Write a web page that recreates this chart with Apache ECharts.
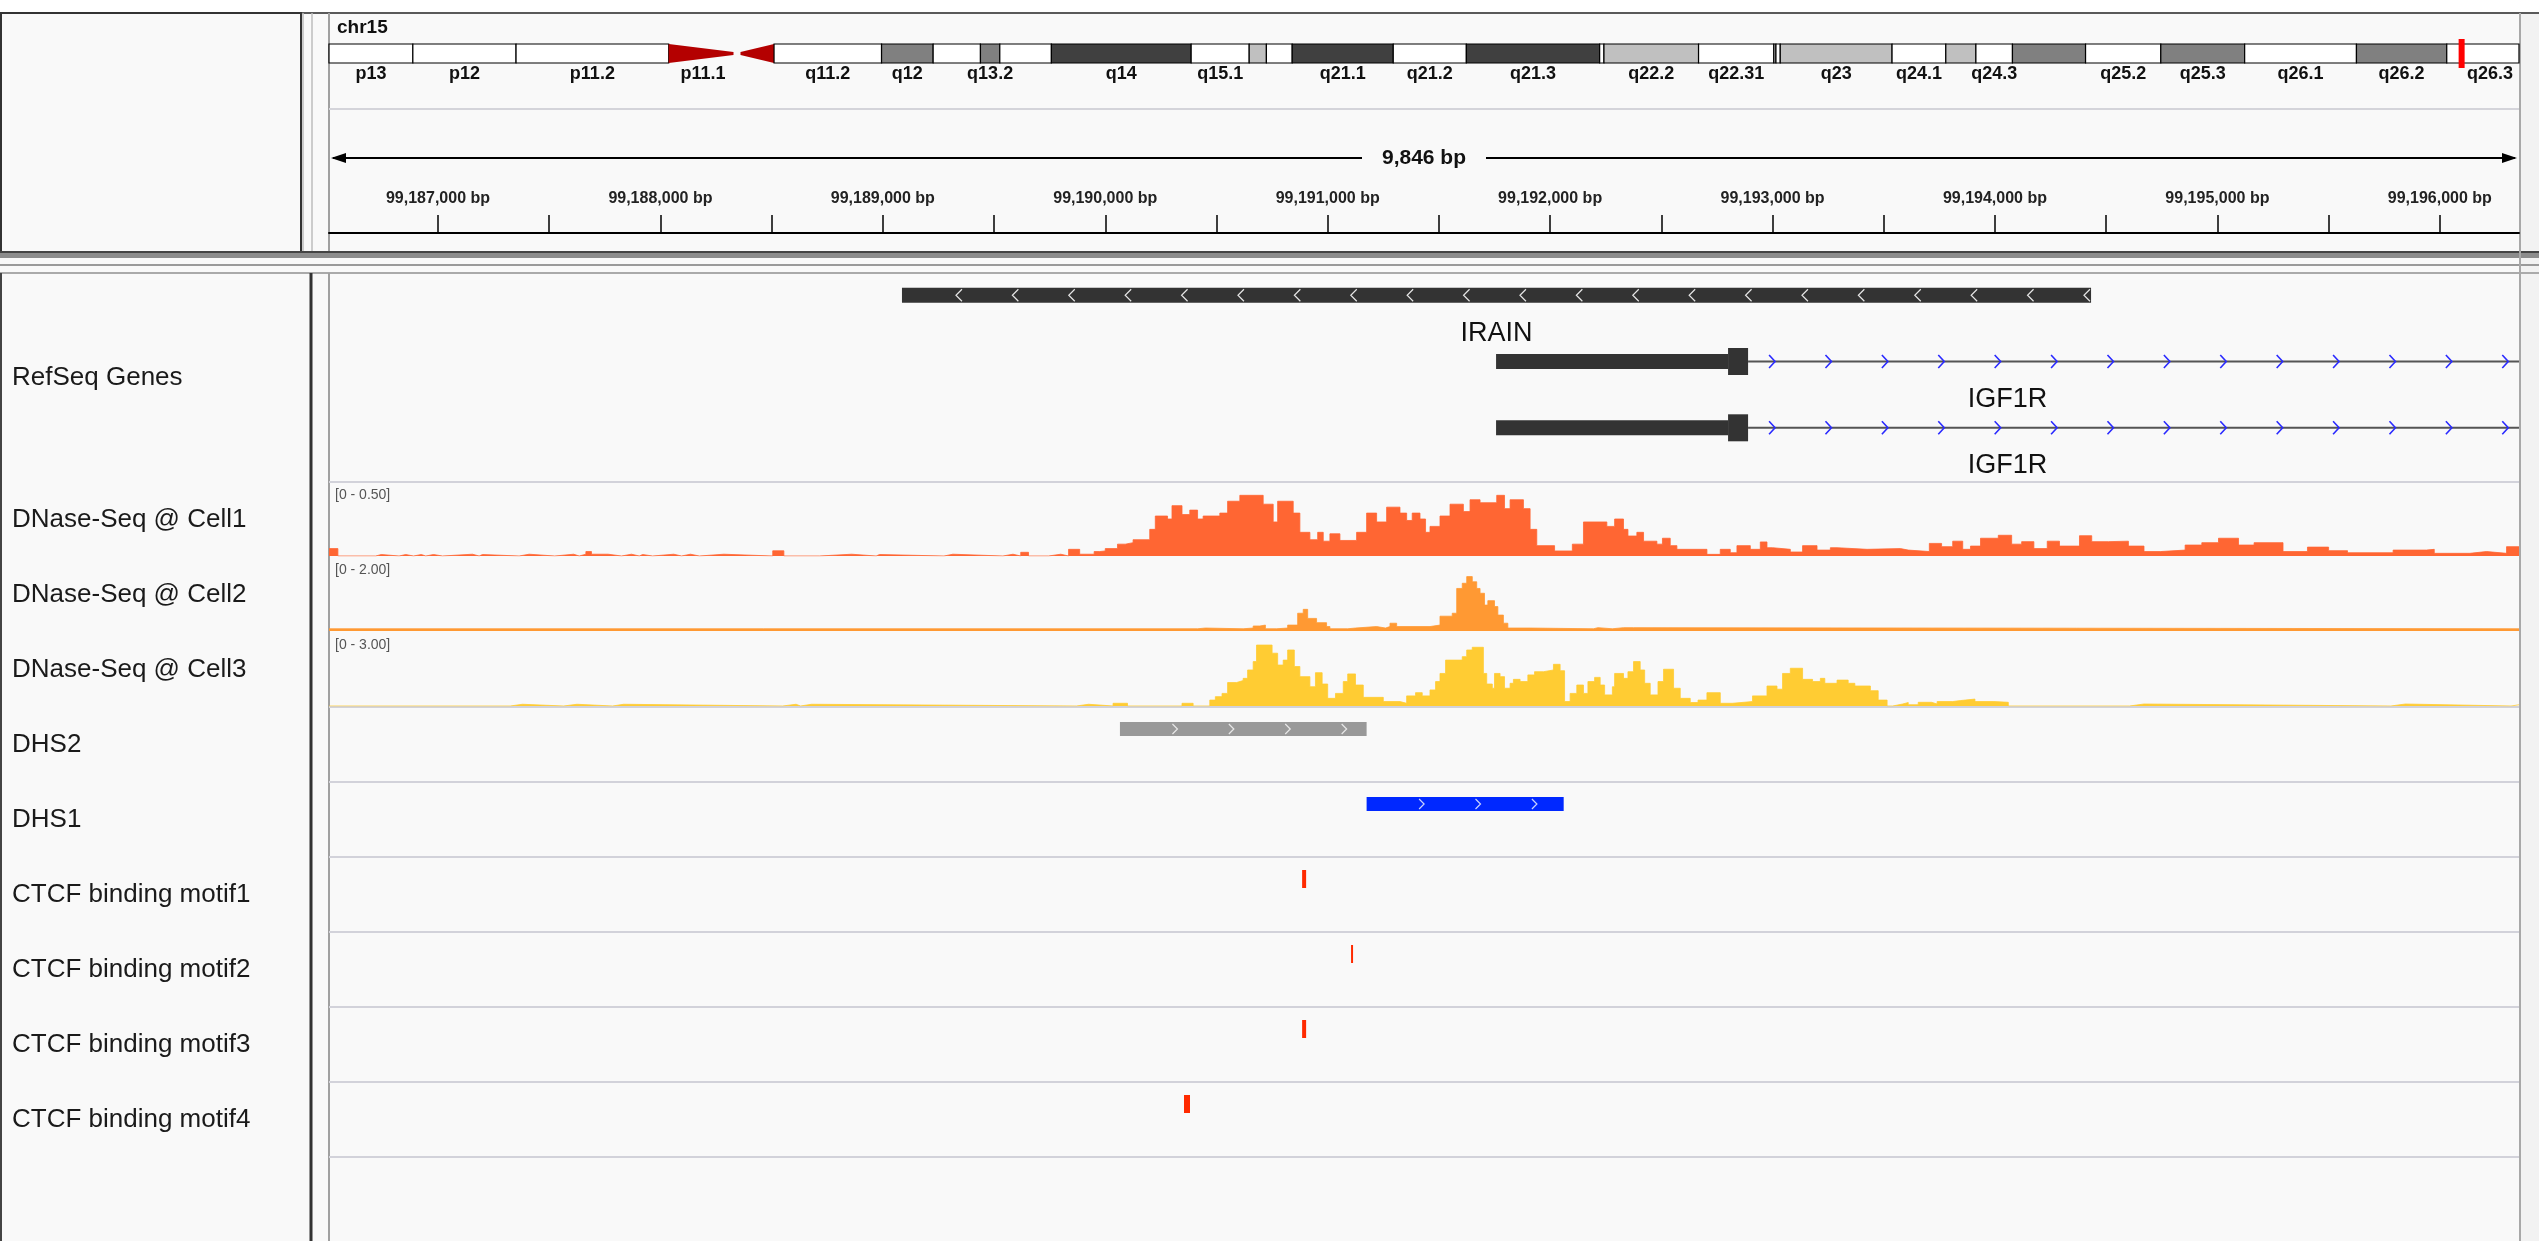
<!DOCTYPE html>
<html><head><meta charset="utf-8">
<script src="https://cdn.jsdelivr.net/npm/echarts@6/dist/echarts.min.js"></script>
<style>html,body{margin:0;padding:0;background:#f9f9f9;overflow:hidden}#c{width:2539px;height:1241px}</style>
</head><body><div id="c"></div>
<script>
// ---------------- DATA ----------------
const CHROM = 'chr15';
const VIEW_START = 99186510;
const VIEW_END = 99196356;
const rulerTickPositions = [99187000,99187500,99188000,99188500,99189000,99189500,99190000,99190500,99191000,99191500,99192000,99192500,99193000,99193500,99194000,99194500,99195000,99195500,99196000];
const rulerLabelPositions = [99187000,99188000,99189000,99190000,99191000,99192000,99193000,99194000,99195000,99196000];

// chr15 cytobands (Mb)
const bandNames = ['p13','p12','p11.2','p11.1','q11.1','q11.2','q12','q13.1','q13.2','q13.3','q14','q15.1','q15.2','q15.3','q21.1','q21.2','q21.3','q22.1','q22.2','q22.31','q22.32','q22.33','q23','q24.1','q24.2','q24.3','q25.1','q25.2','q25.3','q26.1','q26.2','q26.3'];
const bandStartsMb = [0,3.9,8.7,15.8,19.0,20.7,25.7,28.1,30.3,31.2,33.6,40.1,42.8,43.6,44.8,49.5,52.9,59.1,59.3,63.7,67.2,67.3,67.5,72.7,75.2,76.6,78.3,81.7,85.2,89.1,94.3,98.5];
const bandStains = ['gvar','stalk','gvar','acen','acen','gneg','gpos50','gneg','gpos50','gneg','gpos75','gneg','gpos25','gneg','gpos75','gneg','gpos75','gneg','gpos25','gneg','gpos25','gneg','gpos25','gneg','gpos25','gneg','gpos50','gneg','gpos50','gneg','gpos50','gneg'];
const chromLengthMb = 102.53;
const shownBandLabels = ['p13','p12','p11.2','p11.1','q11.2','q12','q13.2','q14','q15.1','q21.1','q21.2','q21.3','q22.2','q22.31','q23','q24.1','q24.3','q25.2','q25.3','q26.1','q26.2','q26.3'];
const ideogramViewMb = 101.86;

// genes
const geneNames = ['IRAIN','IGF1R','IGF1R'];
const geneStrands = ['-','+','+'];
const geneTxStarts = [99189086,99191757,99191757];
const geneTxEnds = [99194432,99507759,99507759];
const geneExon1Ends = [99194432,99192890,99192890];
const geneCdsStarts = [null,99192800,99192800];

// track names
const trackNames = ['RefSeq Genes','DNase-Seq @ Cell1','DNase-Seq @ Cell2','DNase-Seq @ Cell3','DHS2','DHS1','CTCF binding motif1','CTCF binding motif2','CTCF binding motif3','CTCF binding motif4'];
const signalMax = [0.5, 2.0, 3.0];

// DNase signal: [bp offset from VIEW_START, value] step segments
const cell1Steps = [[0,0.05],[40,0],[210,0.01],[235,0],[315,0.01],[345,0],[380,0.01],[415,0],[435,0.01],[470,0],[510,0.012],[645,0],[675,0.01],[690,0],[855,0.012],[900,0],[1015,0.012],[1100,0],[1125,0.012],[1155,0.03],[1180,0.012],[1255,0],[1315,0.012],[1360,0],[1395,0.01],[1410,0],[1455,0.012],[1550,0],[1585,0.012],[1625,0],[1665,0.012],[1775,0],[1995,0.035],[2045,0],[2205,0.012],[2350,0],[2460,0.01],[2475,0],[2765,0.012],[2805,0],[3030,0.012],[3075,0],[3110,0.025],[3145,0],[3235,0.012],[3290,0],[3325,0.045],[3375,0.012],[3440,0.03],[3465,0.034],[3490,0.05],[3545,0.08],[3580,0.09],[3615,0.11],[3690,0.18],[3715,0.27],[3770,0.25],[3790,0.34],[3835,0.28],[3870,0.31],[3905,0.25],[3930,0.27],[4005,0.29],[4040,0.37],[4095,0.41],[4200,0.35],[4245,0.23],[4265,0.37],[4335,0.29],[4365,0.16],[4410,0.11],[4445,0.16],[4470,0.10],[4500,0.15],[4545,0.105],[4620,0.16],[4665,0.29],[4710,0.23],[4755,0.33],[4815,0.29],[4845,0.24],[4870,0.29],[4905,0.25],[4930,0.16],[4950,0.2],[4995,0.27],[5040,0.35],[5100,0.3],[5130,0.38],[5175,0.36],[5250,0.41],[5285,0.32],[5310,0.38],[5370,0.32],[5400,0.18],[5430,0.07],[5510,0.034],[5590,0.08],[5640,0.23],[5745,0.2],[5780,0.25],[5820,0.18],[5840,0.135],[5880,0.16],[5910,0.10],[5970,0.08],[5995,0.12],[6030,0.07],[6060,0.045],[6195,0.011],[6255,0.045],[6300,0.022],[6330,0.07],[6390,0.045],[6435,0.095],[6465,0.056],[6490,0.045],[6570,0.027],[6625,0.07],[6690,0.04],[6750,0.056],[6780,0.045],[6915,0.05],[7065,0.04],[7100,0.03],[7195,0.085],[7250,0.063],[7300,0.10],[7345,0.045],[7380,0.067],[7425,0.12],[7505,0.14],[7565,0.08],[7610,0.097],[7665,0.05],[7725,0.10],[7780,0.067],[7870,0.137],[7925,0.097],[8000,0.10],[8090,0.067],[8160,0.03],[8235,0.04],[8345,0.074],[8420,0.09],[8495,0.12],[8585,0.074],[8655,0.09],[8785,0.03],[8895,0.06],[8990,0.036],[9075,0.022],[9280,0.04],[9430,0.045],[9465,0.018],[9625,0.03],[9700,0.018],[9790,0.063]];
const cell2Steps = [[0,0.06],[3905,0.08],[3940,0.06],[4110,0.08],[4155,0.135],[4185,0.16],[4210,0.06],[4260,0.08],[4310,0.16],[4355,0.48],[4380,0.585],[4400,0.34],[4440,0.225],[4485,0.12],[4500,0.06],[4580,0.08],[4615,0.12],[4710,0.08],[4750,0.12],[4770,0.21],[4800,0.12],[4950,0.16],[4995,0.4],[5050,0.48],[5070,1.15],[5095,1.29],[5115,1.47],[5140,1.33],[5160,1.15],[5175,1.02],[5195,0.7],[5210,0.82],[5240,0.66],[5255,0.43],[5280,0.21],[5300,0.08],[5400,0.06],[5685,0.09],[5705,0.06],[5770,0.09],[5820,0.06],[5825,0.09],[5865,0.06]];
const cell3Steps = [[0,0],[815,0.07],[870,0],[1055,0.07],[1115,0],[1275,0.07],[1325,0],[2040,0.07],[2100,0],[2120,0.07],[2170,0],[3360,0.07],[3415,0],[3525,0.11],[3590,0],[3835,0.11],[3885,0],[3960,0.24],[3985,0.38],[4015,0.51],[4040,0.95],[4080,1.03],[4110,1.12],[4130,1.46],[4155,1.8],[4170,2.47],[4240,2.14],[4265,1.66],[4290,1.86],[4310,2.27],[4340,1.6],[4365,1.19],[4410,0.78],[4435,1.35],[4465,0.89],[4490,0.31],[4525,0.51],[4560,0.99],[4580,1.3],[4615,0.85],[4650,0.35],[4740,0.18],[4815,0.11],[4845,0.41],[4885,0.54],[4915,0.41],[4950,0.65],[4975,0.99],[4995,1.32],[5020,1.86],[5095,2.0],[5115,2.27],[5140,2.38],[5190,1.32],[5205,0.89],[5230,0.72],[5240,1.32],[5265,1.19],[5285,0.72],[5310,0.92],[5325,1.08],[5355,0.99],[5390,1.26],[5420,1.39],[5460,1.46],[5505,1.69],[5535,1.43],[5555,0.18],[5580,0.51],[5610,0.85],[5640,0.51],[5660,0.99],[5690,1.16],[5715,0.85],[5735,0.45],[5770,0.78],[5780,1.32],[5820,1.12],[5840,1.39],[5865,1.8],[5895,1.46],[5915,0.92],[5940,0.45],[5975,0.99],[6000,1.49],[6045,0.72],[6075,0.31],[6120,0.14],[6155,0.24],[6195,0.54],[6255,0.11],[6310,0.18],[6400,0.41],[6465,0.81],[6510,0.68],[6535,1.32],[6570,1.53],[6625,1.08],[6670,0.99],[6705,1.12],[6725,0.92],[6780,1.05],[6830,0.92],[6860,0.81],[6930,0.62],[6965,0.24],[7005,0],[7030,0.08],[7075,0.14],[7100,0.05],[7145,0.15],[7205,0.08],[7230,0.18],[7300,0.22],[7335,0.28],[7400,0.18],[7485,0.15],[7550,0],[8095,0.08],[8160,0],[9270,0.08],[9335,0],[9810,0.05]];

// feature tracks (DHS2, DHS1, CTCF motif1..4)
const featureStarts = [99190066,99191175,99190885,99191105,99190885,99190354];
const featureEnds   = [99191175,99192061,99190903,99191114,99190903,99190381];
const featureStrands = ['+','+','','','',''];

// ---------------- STYLE / LAYOUT ----------------
const FONT = "'Liberation Sans', Arial, Helvetica, sans-serif";
const L = 329, W = 2190, R = L + W;
const IDEO_TOP = 44, IDEO_H = 19;
const RULER_TOP = 110, RULER_H = 123;
const GENE_TOP = 272, GENE_H = 210, GENE_ROW = 66.3;
const SIG_TOP = 482, TRACK_H = 75;
const FEAT_TOP = 707;
const stainColor = {gneg:'#ffffff', gvar:'#ffffff', stalk:'#ffffff', gpos25:'#c0c0c0', gpos50:'#808080', gpos75:'#404040', gpos100:'#000000'};
const signalColors = ['#ff6633','#ff9933','#ffcc33'];
const featureColors = ['#999999','#0028ff','#ff2a00','#ff2a00','#ff2a00','#ff2a00'];
const featureChevronColors = ['#e8e8e8','#c8d2ff'];
const featureHeights = [14,14,18,18,18,18];
const CHEV_STEP = 56.4;

const chart = echarts.init(document.getElementById('c'), null, {width:2539, height:1241});

function chevron(x, y, dir, color, w, h, lw) {
  const pts = dir === '-' ? [[x+w/2, y-h/2],[x-w/2, y],[x+w/2, y+h/2]] : [[x-w/2, y-h/2],[x+w/2, y],[x-w/2, y+h/2]];
  return {type:'polyline', shape:{points:pts}, style:{stroke:color, lineWidth:lw, fill:null}};
}

// ---------------- graphic chrome ----------------
const gfx = [];
function hline(y, x1, x2, color, w){ gfx.push({type:'line', shape:{x1:x1,y1:y,x2:x2,y2:y}, style:{stroke:color,lineWidth:w}, silent:true, z:-1}); }
function vline(x, y1, y2, color, w){ gfx.push({type:'line', shape:{x1:x,y1:y1,x2:x,y2:y2}, style:{stroke:color,lineWidth:w}, silent:true, z:-1}); }
gfx.push({type:'rect', shape:{x:0,y:0,width:2539,height:12}, style:{fill:'#ffffff'}, silent:true, z:-2});
gfx.push({type:'rect', shape:{x:R+1,y:12,width:2539-R,height:1241}, style:{fill:'#f2f2f2'}, silent:true, z:-2});
hline(13, 0, 2539, '#5a5a5a', 2);
gfx.push({type:'rect', shape:{x:1,y:13,width:300,height:239}, style:{fill:'#f9f9f9', stroke:'#333333', lineWidth:2}, silent:true, z:-1});
vline(303, 13, 252, '#bdbdbd', 1.5);
vline(312, 13, 252, '#bdbdbd', 1.5);
vline(L, 13, 252, '#a0a0a0', 2);
hline(109, L, R, '#d4d4da', 2);
hline(252, 0, 2539, '#444444', 2);
gfx.push({type:'rect', shape:{x:0,y:253,width:2539,height:5}, style:{fill:'#8c8c8c'}, silent:true, z:-1});
hline(265, 0, 2539, '#9a9a9a', 2);
hline(273, 0, 2539, '#aaaaaa', 2);
vline(1, 273, 1241, '#444444', 2);
vline(311, 273, 1241, '#333333', 3);
vline(L, 273, 1241, '#a0a0a0', 2);
vline(R+1, 13, 1241, '#a8a8a8', 2);
[SIG_TOP, FEAT_TOP, FEAT_TOP+TRACK_H, FEAT_TOP+2*TRACK_H, FEAT_TOP+3*TRACK_H, FEAT_TOP+4*TRACK_H, FEAT_TOP+5*TRACK_H, FEAT_TOP+6*TRACK_H].forEach(y => hline(y, L, R, '#d2d2da', 2));
// chromosome name
gfx.push({type:'text', x:337, y:28, style:{text:CHROM, font:'bold 19px '+FONT, fill:'#111', verticalAlign:'middle'}, silent:true});
// track names
const trackCenters = [GENE_TOP + GENE_H/2 + 1];
for (let k = 1; k < trackNames.length; k++) trackCenters.push(SIG_TOP + (k-1)*TRACK_H + TRACK_H/2);
trackNames.forEach((n,k) => gfx.push({type:'text', x:12, y:trackCenters[k], style:{text:n, font:'26px '+FONT, fill:'#1a1a1a', verticalAlign:'middle'}, silent:true}));
// data range labels
signalMax.forEach((m,k) => gfx.push({type:'text', x:335, y:SIG_TOP + k*TRACK_H + 13, style:{text:'[0 - '+m.toFixed(2)+']', font:'14px '+FONT, fill:'#555', verticalAlign:'middle'}, silent:true}));

// ---------------- series ----------------
const bandData = bandNames.map((n,i) => [bandStartsMb[i], i+1 < bandStartsMb.length ? bandStartsMb[i+1] : chromLengthMb, i]);

function renderBand(params, api) {
  const i = api.value(2), cs = params.coordSys;
  const xmax = cs.x + cs.width;
  let x0 = Math.min(api.coord([api.value(0), 0])[0], xmax);
  let x1 = Math.min(api.coord([api.value(1), 0])[0], xmax);
  const top = cs.y, h = cs.height, mid = top + h/2;
  if (bandStains[i] === 'acen') {
    const pts = bandNames[i][0] === 'p'
      ? [[x0, top],[x1-4, mid-1.5],[x1-4, mid+1.5],[x0, top+h]]
      : [[x1, top],[x0+3, mid-1.5],[x0+3, mid+1.5],[x1, top+h]];
    return {type:'polygon', shape:{points:pts}, style:{fill:'#b40000'}};
  }
  return {type:'rect', shape:{x:x0, y:top, width:x1-x0, height:h}, style:{fill:stainColor[bandStains[i]], stroke:'#000', lineWidth:1.2}};
}
function renderBandLabel(params, api) {
  const cs = params.coordSys;
  const i = api.value(2);
  const xc = (api.coord([api.value(0),0])[0] + api.coord([api.value(1),0])[0]) / 2;
  return {type:'text', style:{text:bandNames[i], x:xc, y:cs.y + cs.height + 11, align:'center', verticalAlign:'middle', font:'bold 18px '+FONT, fill:'#111'}};
}
function renderMarker(params, api) {
  const cs = params.coordSys;
  const a = api.coord([api.value(0),0])[0], b = api.coord([api.value(1),0])[0];
  const w = Math.max(6, b-a), xc = (a+b)/2;
  return {type:'rect', shape:{x:xc-w/2, y:cs.y-5, width:w, height:cs.height+10}, style:{fill:'#ff0000'}};
}
function renderSpan(params, api) {
  const p0 = api.coord([api.value(0), 0.61]), p1 = api.coord([api.value(1), 0.61]);
  const y = p0[1], x0 = p0[0], x1 = p1[0], mid = (x0+x1)/2, gap = 62;
  const label = (api.value(1) - api.value(0)).toLocaleString('en-US') + ' bp';
  return {type:'group', children:[
    {type:'line', shape:{x1:x0+4, y1:y, x2:mid-gap, y2:y}, style:{stroke:'#000', lineWidth:2}},
    {type:'line', shape:{x1:mid+gap, y1:y, x2:x1-4, y2:y}, style:{stroke:'#000', lineWidth:2}},
    {type:'polygon', shape:{points:[[x0+2,y],[x0+17,y-5],[x0+17,y+5]]}, style:{fill:'#000'}},
    {type:'polygon', shape:{points:[[x1-2,y],[x1-17,y-5],[x1-17,y+5]]}, style:{fill:'#000'}},
    {type:'text', style:{text:label, x:mid, y:y, align:'center', verticalAlign:'middle', font:'bold 21px '+FONT, fill:'#111'}}
  ]};
}
function renderGene(params, api) {
  const i = api.value(2), cs = params.coordSys;
  const lo = cs.x, hi = cs.x + cs.width;
  const cl = x => Math.max(lo, Math.min(hi, x));
  const yc = api.coord([VIEW_START, i + 0.35])[1];
  const xs = cl(api.coord([geneTxStarts[i],0])[0]);
  const xe = cl(api.coord([geneTxEnds[i],0])[0]);
  const e1 = cl(api.coord([geneExon1Ends[i],0])[0]);
  const ch = [];
  if (xe > e1 + 1) {
    ch.push({type:'line', shape:{x1:e1, y1:yc, x2:xe, y2:yc}, style:{stroke:'#555555', lineWidth:2}});
    for (let x = e1 + 24; x < xe - 8; x += CHEV_STEP) ch.push(chevron(x, yc, geneStrands[i], '#2a2aff', 6, 13, 1.6));
  }
  const cds = geneCdsStarts[i];
  if (cds == null) {
    ch.push({type:'rect', shape:{x:xs, y:yc-7.5, width:e1-xs, height:15}, style:{fill:'#333333'}});
    for (let x = xs + 57; x < e1 - 4; x += CHEV_STEP) ch.push(chevron(x, yc, geneStrands[i], '#e6e6e6', 6, 12, 1.2));
  } else {
    const xc = cl(api.coord([cds,0])[0]);
    ch.push({type:'rect', shape:{x:xs, y:yc-7.5, width:xc-xs, height:15}, style:{fill:'#333333'}});
    ch.push({type:'rect', shape:{x:xc, y:yc-13.5, width:e1-xc, height:27}, style:{fill:'#333333'}});
  }
  ch.push({type:'text', style:{text:geneNames[i], x:(xs+xe)/2, y:yc+38, align:'center', verticalAlign:'middle', font:'27px '+FONT, fill:'#111'}});
  return {type:'group', children:ch};
}
function renderFeature(params, api) {
  const k = api.value(2);
  const a = api.coord([api.value(0), k + 0.2933]), b = api.coord([api.value(1), k + 0.2933]);
  const h = featureHeights[k], w = Math.max(b[0]-a[0], 1.6), y = a[1];
  const ch = [{type:'rect', shape:{x:a[0], y:y-h/2, width:w, height:h}, style:{fill:featureColors[k]}}];
  if (featureStrands[k]) for (let x = a[0] + 55; x < a[0] + w - 5; x += CHEV_STEP) ch.push(chevron(x, y, featureStrands[k], featureChevronColors[k] || '#eee', 5, 10, 1.2));
  return {type:'group', children:ch};
}
function stepData(steps) {
  const d = steps.map(s => [VIEW_START + s[0], s[1]]);
  d.push([VIEW_END, steps[steps.length-1][1]]);
  return d;
}

const xAxes = [
  {gridIndex:0, type:'value', min:0, max:ideogramViewMb, show:false},
  {gridIndex:1, type:'value', min:VIEW_START, max:VIEW_END, position:'bottom',
   axisLine:{show:true, onZero:false, lineStyle:{color:'#000', width:2}},
   axisTick:{show:true, inside:true, length:18, customValues:rulerTickPositions, lineStyle:{color:'#000', width:1.5}},
   axisLabel:{show:true, inside:true, margin:26, customValues:rulerLabelPositions, formatter:v => Number(v).toLocaleString('en-US') + ' bp', fontFamily:FONT, fontSize:16, fontWeight:'bold', color:'#222'},
   splitLine:{show:false}}
];
for (let g = 2; g <= 6; g++) xAxes.push({gridIndex:g, type:'value', min:VIEW_START, max:VIEW_END, show:false});
const yAxes = [
  {gridIndex:0, type:'value', min:0, max:1, show:false},
  {gridIndex:1, type:'value', min:0, max:1, show:false},
  {gridIndex:2, type:'value', min:0, max:GENE_H/GENE_ROW, inverse:true, show:false},
  {gridIndex:3, type:'value', min:0, max:signalMax[0], show:false},
  {gridIndex:4, type:'value', min:0, max:signalMax[1], show:false},
  {gridIndex:5, type:'value', min:0, max:signalMax[2], show:false},
  {gridIndex:6, type:'value', min:0, max:6, inverse:true, show:false}
];
const grids = [
  {left:L, top:IDEO_TOP, width:W, height:IDEO_H},
  {left:L, top:RULER_TOP, width:W, height:RULER_H},
  {left:L, top:GENE_TOP, width:W, height:GENE_H},
  {left:L, top:SIG_TOP, width:W, height:TRACK_H-1},
  {left:L, top:SIG_TOP+TRACK_H, width:W, height:TRACK_H-1},
  {left:L, top:SIG_TOP+2*TRACK_H, width:W, height:TRACK_H-1},
  {left:L, top:FEAT_TOP, width:W, height:6*TRACK_H}
].map(g => Object.assign({show:false, containLabel:false}, g));

const series = [
  {type:'custom', xAxisIndex:0, yAxisIndex:0, renderItem:renderBand, data:bandData, encode:{x:[0,1]}, silent:true},
  {type:'custom', xAxisIndex:0, yAxisIndex:0, renderItem:renderBandLabel, data:bandData.filter(d => shownBandLabels.includes(bandNames[d[2]])), encode:{x:[0,1]}, silent:true},
  {type:'custom', xAxisIndex:0, yAxisIndex:0, renderItem:renderMarker, data:[[VIEW_START/1e6, VIEW_END/1e6]], encode:{x:[0,1]}, silent:true, z:5},
  {type:'custom', xAxisIndex:1, yAxisIndex:1, renderItem:renderSpan, data:[[VIEW_START, VIEW_END]], encode:{x:[0,1]}, silent:true},
  {type:'custom', xAxisIndex:2, yAxisIndex:2, renderItem:renderGene, data:geneNames.map((n,i) => [geneTxStarts[i], geneTxEnds[i], i]), encode:{x:[0,1]}, silent:true},
];
[cell1Steps, cell2Steps, cell3Steps].forEach((s,k) => series.push({
  type:'line', xAxisIndex:3+k, yAxisIndex:3+k, step:'end', data:stepData(s), symbol:'none', silent:true, clip:true,
  lineStyle:{width:0.8, color:signalColors[k]}, areaStyle:{color:signalColors[k], opacity:1}
}));
series.push({type:'custom', xAxisIndex:6, yAxisIndex:6, renderItem:renderFeature, data:featureStarts.map((s,k) => [s, featureEnds[k], k]), encode:{x:[0,1]}, silent:true});

chart.setOption({
  animation:false,
  backgroundColor:'#f9f9f9',
  grid:grids, xAxis:xAxes, yAxis:yAxes,
  graphic:{elements:gfx},
  series:series
});
</script></body></html>
